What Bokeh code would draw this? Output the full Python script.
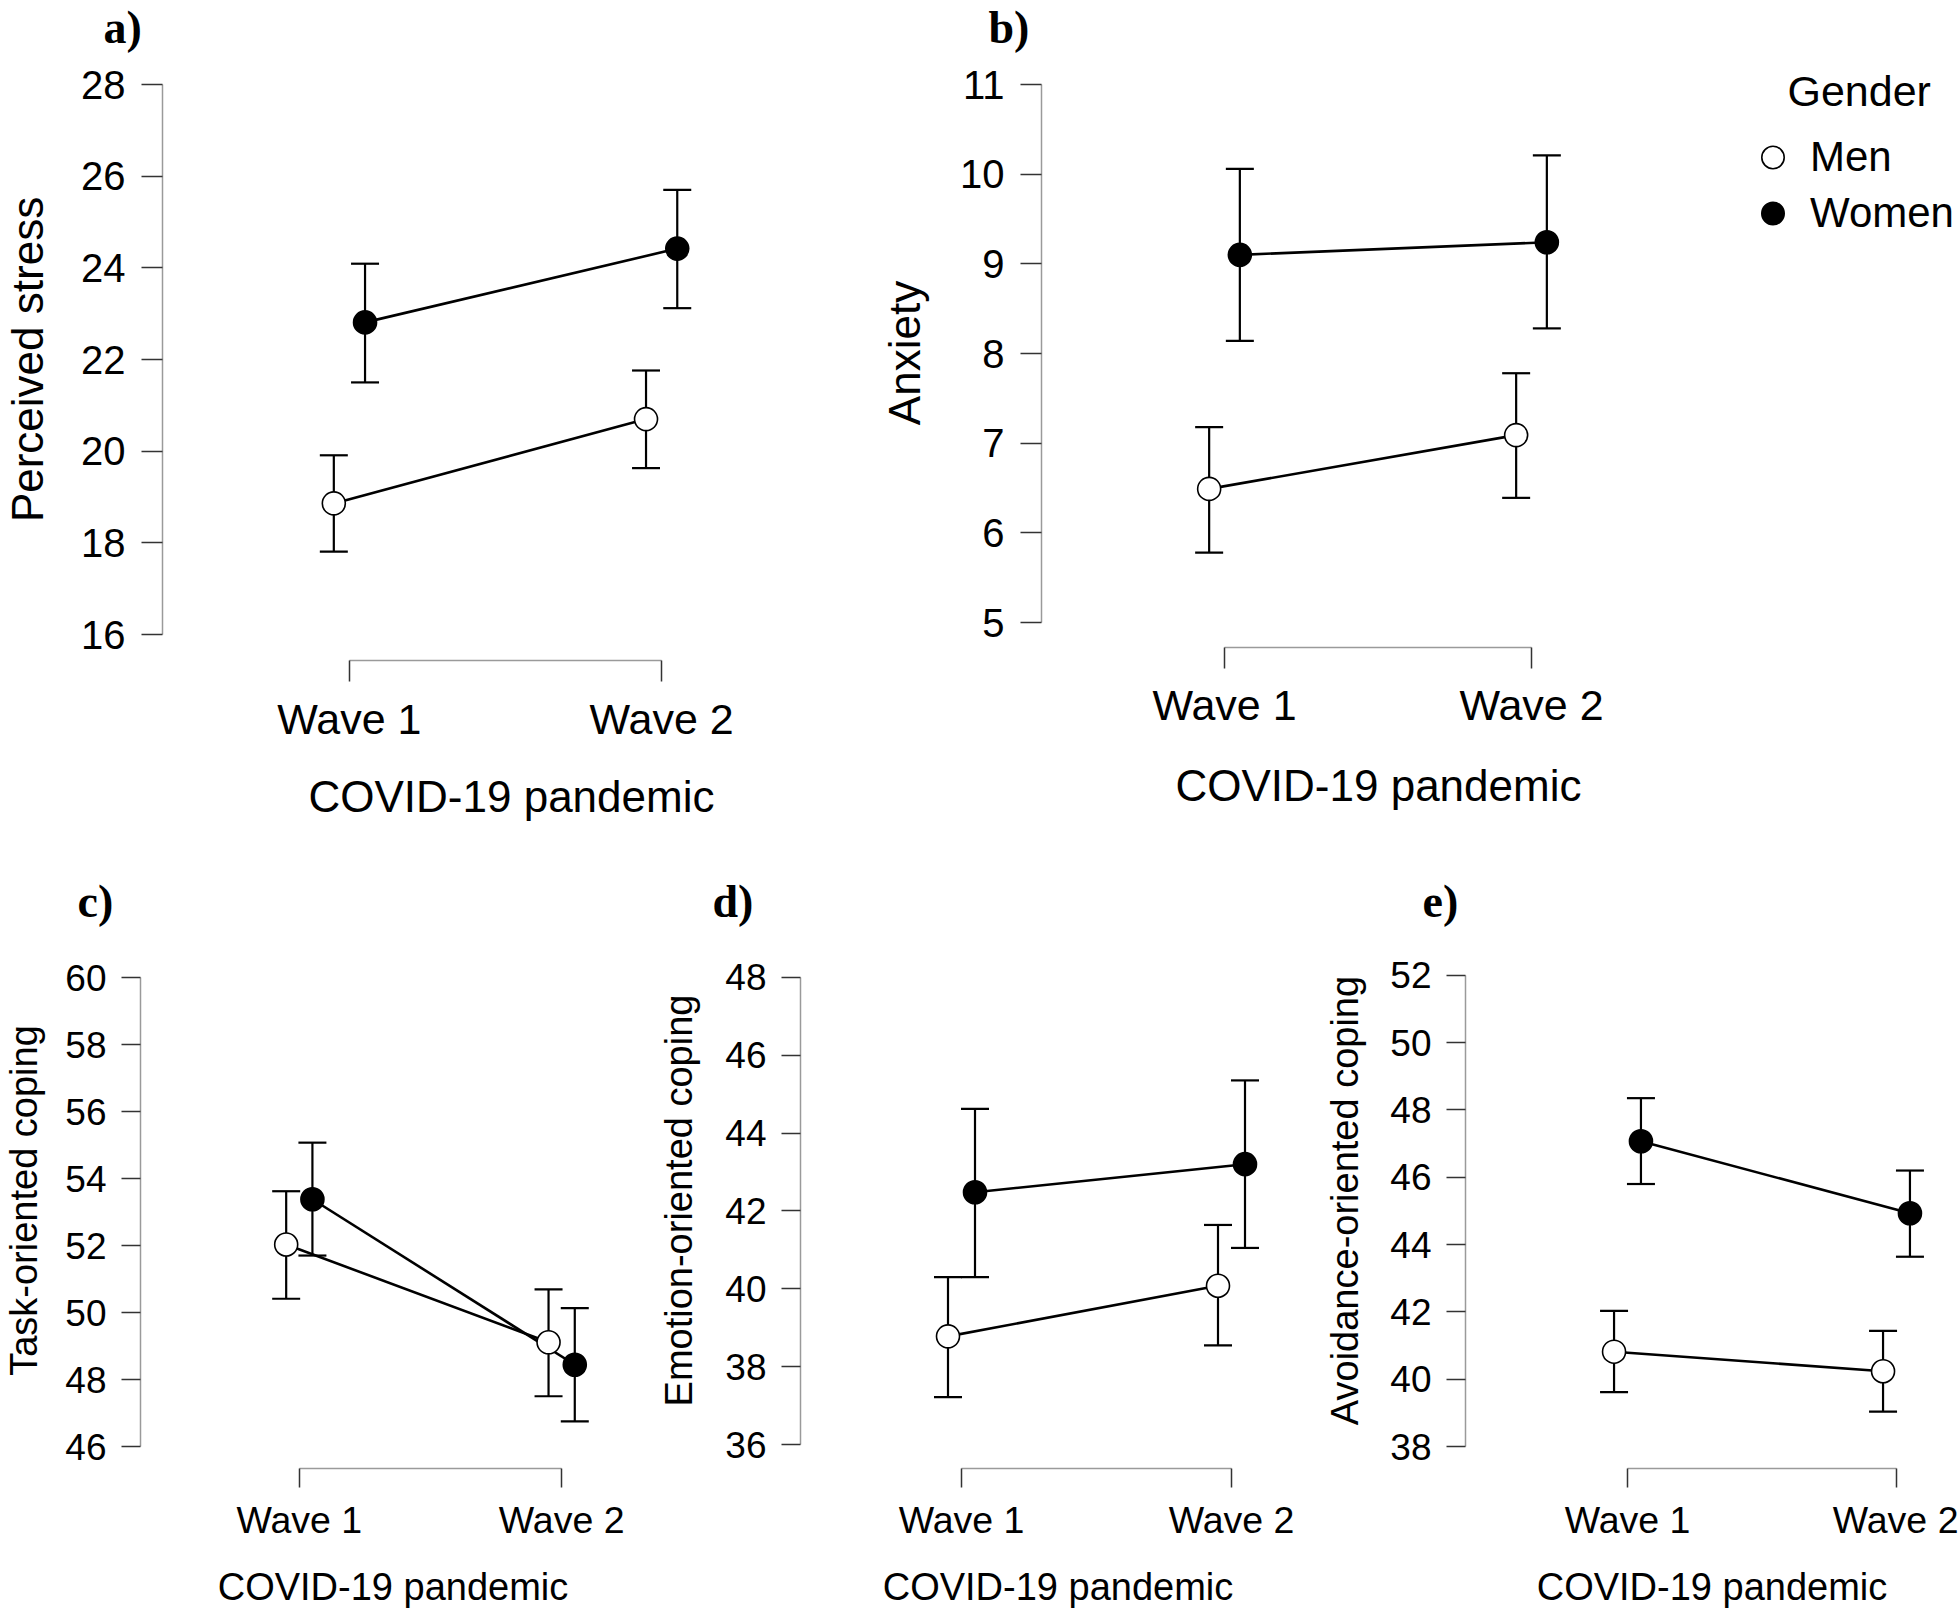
from bokeh.plotting import figure
from bokeh.layouts import column, row
from bokeh.models import ColumnDataSource, Whisker, TeeHead, FixedTicker, Legend, LegendItem, Label
from bokeh.embed import file_html
from bokeh.resources import INLINE

# ---------------- data ----------------
waves = ["Wave 1", "Wave 2"]
groups = ["Men", "Women"]
legend_title = "Gender"
x_title = "COVID-19 pandemic"

# a) Perceived stress
stress_men = [18.86, 20.70]
stress_men_lo = [17.81, 19.63]
stress_men_hi = [19.91, 21.76]
stress_women = [22.81, 24.42]
stress_women_lo = [21.50, 23.12]
stress_women_hi = [24.09, 25.70]
stress_ticks = [16, 18, 20, 22, 24, 26, 28]

# b) Anxiety
anx_men = [6.49, 7.09]
anx_men_lo = [5.78, 6.39]
anx_men_hi = [7.18, 7.78]
anx_women = [9.10, 9.24]
anx_women_lo = [8.14, 8.28]
anx_women_hi = [10.06, 10.21]
anx_ticks = [5, 6, 7, 8, 9, 10, 11]

# c) Task-oriented coping
task_men = [52.03, 49.11]
task_men_lo = [50.41, 47.50]
task_men_hi = [53.62, 50.69]
task_women = [53.38, 48.44]
task_women_lo = [51.70, 46.75]
task_women_hi = [55.07, 50.13]
task_ticks = [46, 48, 50, 52, 54, 56, 58, 60]

# d) Emotion-oriented coping
emo_men = [38.78, 40.08]
emo_men_lo = [37.22, 38.55]
emo_men_hi = [40.30, 41.64]
emo_women = [42.48, 43.20]
emo_women_lo = [40.30, 41.05]
emo_women_hi = [44.62, 45.35]
emo_ticks = [36, 38, 40, 42, 44, 46, 48]

# e) Avoidance-oriented coping
avo_men = [40.82, 40.24]
avo_men_lo = [39.62, 39.04]
avo_men_hi = [42.03, 41.44]
avo_women = [47.07, 44.93]
avo_women_lo = [45.80, 43.64]
avo_women_hi = [48.35, 46.20]
avo_ticks = [38, 40, 42, 44, 46, 48, 50, 52]

# ---------------- styling / geometry (pixels) ----------------
DODGE = 0.05
SANS = "Liberation Sans"
SERIF = "Liberation Serif"
MEN_FILL = "white"
WOMEN_FILL = "black"
TOTAL_W = 1958
STRIP_H = 58


def px(v):
    return f"{v:.1f}px"


def bare(p):
    p.outline_line_color = None
    p.xgrid.visible = False
    p.ygrid.visible = False
    p.background_fill_color = "white"
    p.border_fill_color = "white"
    p.frame_align = False


def make_panel(ylabel, yticks, series, box, frame, ytick_px, xtick_px, fonts, stand):
    X0, Y0, X1, Y1 = box
    fl, fr, ft, fb = frame
    (v_hi, y_hi), (v_lo, y_lo) = ytick_px
    x1p, x2p = xtick_px
    upp = (v_hi - v_lo) / (y_lo - y_hi)
    y0 = v_lo - (fb - y_lo) * upp
    y1 = v_hi + (y_hi - ft) * upp
    ppu = x2p - x1p
    x0 = 1 - (x1p - fl) / ppu
    x1 = 2 + (fr - x2p) / ppu

    p = figure(width=X1 - X0, height=Y1 - Y0, x_range=(x0, x1), y_range=(y0, y1),
               output_backend="svg", toolbar_location=None,
               min_border_left=fl - X0, min_border_right=X1 - fr,
               min_border_top=ft - Y0, min_border_bottom=Y1 - fb)
    bare(p)

    tick_f, xlab_f, title_f, ytick_len, xtick_len = fonts
    ystand, ylab_stand, xstand, xlab_stand = stand

    ya = p.yaxis[0]
    ya.ticker = FixedTicker(ticks=yticks)
    ya.bounds = (yticks[0], yticks[-1])
    ya.axis_label = ylabel
    ya.axis_label_text_font = SANS
    ya.axis_label_text_font_style = "normal"
    ya.axis_label_text_font_size = px(title_f)
    ya.axis_label_text_color = "black"
    ya.axis_label_standoff = ylab_stand
    ya.major_label_text_font = SANS
    ya.major_label_text_font_size = px(tick_f)
    ya.major_label_text_color = "black"
    ya.major_label_standoff = ystand
    ya.major_tick_in = 0
    ya.major_tick_out = ytick_len
    ya.minor_tick_line_color = None
    ya.axis_line_color = "#9a9a9a"
    ya.axis_line_width = 1.5
    ya.major_tick_line_color = "#333333"
    ya.major_tick_line_width = 1.5

    xa = p.xaxis[0]
    xa.ticker = FixedTicker(ticks=[1, 2])
    xa.bounds = (1, 2)
    xa.major_label_overrides = {i + 1: w for i, w in enumerate(waves)}
    xa.axis_label = x_title
    xa.axis_label_text_font = SANS
    xa.axis_label_text_font_style = "normal"
    xa.axis_label_text_font_size = px(title_f)
    xa.axis_label_text_color = "black"
    xa.axis_label_standoff = xlab_stand
    xa.major_label_text_font = SANS
    xa.major_label_text_font_size = px(xlab_f)
    xa.major_label_text_color = "black"
    xa.major_label_standoff = xstand
    xa.major_tick_in = 0
    xa.major_tick_out = xtick_len
    xa.minor_tick_line_color = None
    xa.axis_line_color = "#9a9a9a"
    xa.axis_line_width = 1.5
    xa.major_tick_line_color = "#333333"
    xa.major_tick_line_width = 1.5

    n = len(waves)
    for g in groups:
        mean, lo, hi = series[g]
        off = -DODGE if g == "Men" else DODGE
        xs = [i + 1 + off for i in range(n)]
        src = ColumnDataSource(dict(x=xs, lower=lo, upper=hi))
        p.add_layout(Whisker(base="x", lower="lower", upper="upper", source=src, dimension="height",
                             line_color="black", line_width=2.2,
                             upper_head=TeeHead(size=28, line_color="black", line_width=2.2),
                             lower_head=TeeHead(size=28, line_color="black", line_width=2.2)))
    for g in groups:
        mean, lo, hi = series[g]
        off = -DODGE if g == "Men" else DODGE
        xs = [i + 1 + off for i in range(n)]
        p.line(xs, mean, line_color="black", line_width=2.6)
    for g in groups:
        mean, lo, hi = series[g]
        off = -DODGE if g == "Men" else DODGE
        xs = [i + 1 + off for i in range(n)]
        p.scatter(xs, mean, marker="circle", size=23,
                  fill_color=MEN_FILL if g == "Men" else WOMEN_FILL,
                  line_color="black", line_width=1.6)
    return p


def letter_strip(letters, height, y_from_bottom):
    s = figure(width=TOTAL_W, height=height, x_range=(0, 1), y_range=(0, 1),
               x_axis_type=None, y_axis_type=None, output_backend="svg", toolbar_location=None,
               min_border_left=0, min_border_right=0, min_border_top=0, min_border_bottom=0)
    bare(s)
    for text, left in letters:
        s.add_layout(Label(x=left, y=y_from_bottom, x_units="screen", y_units="screen",
                           text=text, text_font=SERIF, text_font_style="bold",
                           text_font_size=px(46), text_color="black",
                           text_align="left", text_baseline="middle"))
    return s


big_fonts = (40, 43, 44, 21, 21)
small_fonts = (37, 37.5, 38, 19, 19)
ROW1 = (STRIP_H, 874)
ROW2 = (874 + STRIP_H, 1610)

pa = make_panel("Perceived stress", stress_ticks,
                {"Men": (stress_men, stress_men_lo, stress_men_hi),
                 "Women": (stress_women, stress_women_lo, stress_women_hi)},
                box=(0, ROW1[0], 860, ROW1[1]), frame=(158, 860, ROW1[0], 660),
                ytick_px=((28, 84), (16, 634)), xtick_px=(346, 660),
                fonts=big_fonts, stand=(16, 26, 13, 26))

pb = make_panel("Anxiety", anx_ticks,
                {"Men": (anx_men, anx_men_lo, anx_men_hi),
                 "Women": (anx_women, anx_women_lo, anx_women_hi)},
                box=(860, ROW1[0], 1715, ROW1[1]), frame=(1041, 1715, ROW1[0], 647),
                ytick_px=((11, 84), (5, 622)), xtick_px=(1224, 1531),
                fonts=big_fonts, stand=(16, 28, 12, 29))

pc = make_panel("Task-oriented coping", task_ticks,
                {"Men": (task_men, task_men_lo, task_men_hi),
                 "Women": (task_women, task_women_lo, task_women_hi)},
                box=(0, ROW2[0], 645, ROW2[1]), frame=(133, 645, ROW2[0], 1468),
                ytick_px=((60, 977), (46, 1446)), xtick_px=(294, 560),
                fonts=small_fonts, stand=(15, 17, 11, 22))

pd_ = make_panel("Emotion-oriented coping", emo_ticks,
                 {"Men": (emo_men, emo_men_lo, emo_men_hi),
                  "Women": (emo_women, emo_women_lo, emo_women_hi)},
                 box=(645, ROW2[0], 1315, ROW2[1]), frame=(800, 1315, ROW2[0], 1472),
                 ytick_px=((48, 977), (36, 1448)), xtick_px=(961, 1231),
                 fonts=small_fonts, stand=(15, 22, 11, 22))

pe = make_panel("Avoidance-oriented coping", avo_ticks,
                {"Men": (avo_men, avo_men_lo, avo_men_hi),
                 "Women": (avo_women, avo_women_lo, avo_women_hi)},
                box=(1315, ROW2[0], TOTAL_W, ROW2[1]), frame=(1465, TOTAL_W, ROW2[0], 1471),
                ytick_px=((52, 975), (38, 1449)), xtick_px=(1627, 1896),
                fonts=small_fonts, stand=(15, 21, 11, 22))

# ---------------- legend panel (to the right of panel b) ----------------
LEG_X0 = 1715
pl = figure(width=TOTAL_W - LEG_X0, height=ROW1[1] - ROW1[0],
            x_range=(100, 101), y_range=(100, 101), x_axis_type=None, y_axis_type=None,
            output_backend="svg", toolbar_location=None,
            min_border_left=0, min_border_right=0, min_border_top=0, min_border_bottom=0)
bare(pl)
leg_r = {}
for g, vals in zip(groups, (anx_men, anx_women)):
    off = -DODGE if g == "Men" else DODGE
    leg_r[g] = pl.scatter([i + 1 + off for i in range(len(waves))], vals, marker="circle", size=23,
                          fill_color=MEN_FILL if g == "Men" else WOMEN_FILL,
                          line_color="black", line_width=1.6)
pl.add_layout(Label(x=1787 - LEG_X0, y=ROW1[1] - 90, x_units="screen", y_units="screen",
                    text=legend_title, text_font=SANS, text_font_size=px(43), text_color="black",
                    text_align="left", text_baseline="middle"))
legend = Legend(items=[LegendItem(label=g, renderers=[leg_r[g]]) for g in groups],
                location=(1744 - LEG_X0, ROW1[1] - 241),
                label_text_font=SANS, label_text_font_size=px(42), label_text_color="black",
                glyph_width=57, glyph_height=56,
                label_standoff=9, spacing=0, padding=0, margin=0,
                border_line_color=None, background_fill_alpha=0)
pl.add_layout(legend)

strip1 = letter_strip([("a)", 103), ("b)", 988)], STRIP_H, 31)
strip2 = letter_strip([("c)", 77), ("d)", 712), ("e)", 1422)], STRIP_H, 31)

layout = column(strip1, row(pa, pb, pl), strip2, row(pc, pd_, pe))

html = file_html(layout, INLINE)
open("out.html", "w").write(html)
